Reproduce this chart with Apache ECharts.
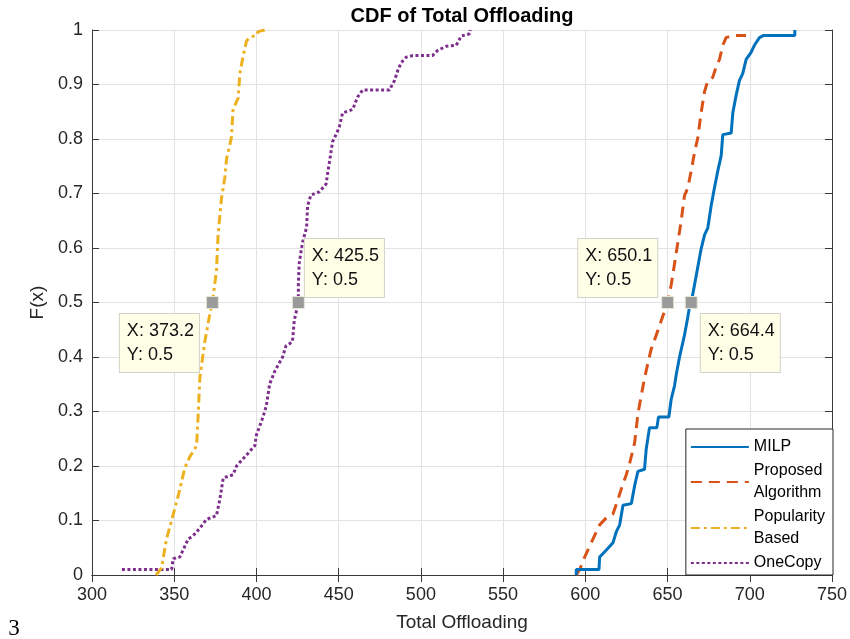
<!DOCTYPE html>
<html>
<head>
<meta charset="utf-8">
<script src="https://cdn.jsdelivr.net/npm/echarts@6/dist/echarts.min.js"></script>
<style>
  html, body { margin: 0; padding: 0; background: #fff; }
  #chart { width: 850px; height: 639px; }
</style>
</head>
<body>
<div id="chart"></div>
<script>
// x axis ticks
const xTicks = [300, 350, 400, 450, 500, 550, 600, 650, 700, 750]

// MILP
const milpX = [594.5, 594.5, 608.3, 608.7, 612.8, 616.8, 618.8, 620.9, 622.9, 628, 630, 632, 636, 637, 639, 643.5, 644.5, 650.8, 652.2, 654.3, 655.3, 657.3, 660.3, 662.3, 663.4, 664.4, 666.4, 668.4, 670.4, 672.5, 674.5, 676.5, 678.5, 680.6, 682.6, 683.6, 688.7, 689.7, 691.7, 693.7, 695.7, 697.8, 700.8, 702.8, 705.9, 708.5, 727.4, 727.4]
const milpY = [0, 0.01, 0.01, 0.033, 0.046, 0.059, 0.079, 0.092, 0.128, 0.131, 0.164, 0.19, 0.194, 0.23, 0.27, 0.27, 0.29, 0.29, 0.322, 0.348, 0.368, 0.4, 0.44, 0.473, 0.493, 0.5, 0.532, 0.565, 0.598, 0.624, 0.637, 0.677, 0.71, 0.742, 0.769, 0.808, 0.811, 0.848, 0.88, 0.907, 0.92, 0.946, 0.959, 0.972, 0.986, 0.99, 0.99, 1]

// Proposed Algorithm
const propX = [594.5, 596.6, 599.6, 601.6, 603.6, 606.7, 608.7, 612.8, 616.8, 619.8, 621.9, 624.9, 626.9, 630, 632, 634, 636, 638, 640, 643.1, 646.2, 650.1, 652.2, 654.3, 656.3, 658.3, 660.3, 662.3, 664.4, 666.4, 668.4, 670.4, 672.5, 674.5, 677.5, 679.6, 681.6, 683.6, 685.6, 689.7, 697.7]
const propY = [0, 0.01, 0.033, 0.046, 0.059, 0.079, 0.092, 0.105, 0.112, 0.138, 0.158, 0.184, 0.204, 0.243, 0.296, 0.329, 0.361, 0.388, 0.414, 0.44, 0.467, 0.5, 0.532, 0.572, 0.611, 0.65, 0.696, 0.71, 0.742, 0.775, 0.802, 0.848, 0.887, 0.907, 0.913, 0.933, 0.946, 0.972, 0.986, 0.99, 0.99]

// Popularity Based
const popX = [339, 342.3, 345.3, 348.4, 352.4, 356.5, 359.5, 363.6, 364.6, 365.6, 368.6, 371.7, 373.2, 375.7, 376.7, 378.7, 380.8, 381.8, 384.8, 385.8, 388.9, 389.9, 392, 394, 396, 400, 401, 405]
const popY = [0, 0.013, 0.066, 0.1, 0.145, 0.197, 0.217, 0.237, 0.296, 0.362, 0.428, 0.48, 0.5, 0.559, 0.625, 0.69, 0.73, 0.763, 0.803, 0.855, 0.875, 0.92, 0.954, 0.98, 0.987, 0.99, 0.997, 1]

// OneCopy
const oneX = [318.2, 348.4, 349.4, 353.4, 358.5, 361.5, 365.6, 369.6, 375.7, 377.7, 379.8, 385.8, 387.9, 393.9, 399, 400, 404, 406, 408, 411.3, 415.9, 417.9, 421.9, 423, 425.5, 425.5, 426, 428, 430.5, 431.1, 433.1, 438.2, 442.3, 444.3, 446.3, 448.4, 450.4, 452.4, 458.5, 461.5, 464.6, 480.9, 483.9, 486, 488, 491, 495, 507, 510.4, 515.4, 521.5, 524.6, 529.7, 530]
const oneY = [0.01, 0.01, 0.03, 0.033, 0.066, 0.072, 0.086, 0.102, 0.109, 0.138, 0.178, 0.184, 0.2, 0.22, 0.237, 0.257, 0.29, 0.31, 0.35, 0.375, 0.4, 0.42, 0.428, 0.467, 0.5, 0.533, 0.572, 0.61, 0.638, 0.677, 0.697, 0.703, 0.717, 0.756, 0.795, 0.808, 0.822, 0.848, 0.854, 0.877, 0.89, 0.89, 0.907, 0.926, 0.94, 0.95, 0.953, 0.953, 0.963, 0.97, 0.972, 0.989, 0.993, 1]

// data tips
const tipX = [373.2, 425.5, 650.1, 664.4]
const tipY = [0.5, 0.5, 0.5, 0.5]
const tipOffsets = [[-86, 18], [13, -57], [-83, -57], [16, 18]]

const zip = (xs, ys) => xs.map((x, i) => [x, ys[i]])

const font = 'Liberation Sans, Arial, sans-serif'
const axisColor = '#3a3a3a'

const chart = echarts.init(document.getElementById('chart'))

const mkLine = (name, xs, ys, color, type, z) => ({
  name: name,
  type: 'line',
  data: zip(xs, ys),
  symbol: 'none',
  showSymbol: false,
  z: z,
  lineStyle: { color: color, width: 3, type: type },
  itemStyle: { color: color }
})

chart.setOption({
  animation: false,
  textStyle: { fontFamily: font },
  grid: { left: 92, right: 18, top: 30, bottom: 64 },
  graphic: [
    {
      type: 'text', x: 462, y: 6,
      style: { text: 'CDF of Total Offloading', font: 'bold 20px ' + font, fill: '#000', textAlign: 'center' }
    },
    {
      type: 'text', x: 14, y: 617,
      style: { text: '3', font: '23px Liberation Serif, DejaVu Serif, serif', fill: '#000', textAlign: 'center' }
    }
  ],
  legend: {
    data: ['MILP', 'Proposed\nAlgorithm', 'Popularity\nBased', 'OneCopy'],
    orient: 'vertical',
    right: 17,
    bottom: 64,
    backgroundColor: '#fff',
    borderColor: '#262626',
    borderWidth: 1,
    borderRadius: 0,
    padding: [7, 8, 1, 4],
    itemWidth: 58,
    itemHeight: 14,
    itemGap: 2,
    itemStyle: { opacity: 0 },
    textStyle: { fontSize: 16, lineHeight: 22, color: '#000', fontFamily: font }
  },
  xAxis: [
    {
      type: 'value', min: 300, max: 750, interval: 50,
      name: 'Total Offloading', nameLocation: 'middle', nameGap: 38,
      nameTextStyle: { fontSize: 19, color: '#262626' },
      axisLine: { lineStyle: { color: axisColor, width: 1 } },
      axisTick: { inside: true, length: 7, lineStyle: { color: axisColor } },
      axisLabel: { fontSize: 18, color: '#262626', margin: 11,
        formatter: (v) => xTicks.includes(v) ? String(v) : '' },
      splitLine: { show: true, lineStyle: { color: '#e2e2e2', width: 1 } }
    },
    {
      type: 'value', min: 300, max: 750, interval: 50, position: 'top',
      axisLine: { lineStyle: { color: axisColor, width: 1 } },
      axisTick: { inside: true, length: 7, lineStyle: { color: axisColor } },
      axisLabel: { show: false },
      splitLine: { show: false }
    }
  ],
  yAxis: [
    {
      type: 'value', min: 0, max: 1, interval: 0.1,
      name: 'F(x)', nameLocation: 'middle', nameGap: 37, nameRotate: 90,
      nameTextStyle: { fontSize: 19, color: '#262626' },
      axisLine: { show: true, lineStyle: { color: axisColor, width: 1 } },
      axisTick: { show: true, inside: true, length: 7, lineStyle: { color: axisColor } },
      axisLabel: { fontSize: 18, color: '#262626', margin: 9,
        formatter: (v) => String(Math.round(v * 10) / 10) },
      splitLine: { show: true, lineStyle: { color: '#e2e2e2', width: 1 } }
    },
    {
      type: 'value', min: 0, max: 1, interval: 0.1, position: 'right',
      axisLine: { show: true, lineStyle: { color: axisColor, width: 1 } },
      axisTick: { show: true, inside: true, length: 7, lineStyle: { color: axisColor } },
      axisLabel: { show: false },
      splitLine: { show: false }
    }
  ],
  series: [
    mkLine('MILP', milpX, milpY, '#0072BD', 'solid', 5),
    mkLine('Proposed\nAlgorithm', propX, propY, '#D95319', [11, 7], 4),
    mkLine('Popularity\nBased', popX, popY, '#EDB120', [9, 4, 3, 4], 3),
    mkLine('OneCopy', oneX, oneY, '#7E2F8E', [3, 2.5], 2),
    {
      name: 'tips',
      type: 'scatter',
      z: 10,
      symbol: 'rect',
      symbolSize: 12,
      itemStyle: { color: '#9b9b9b', borderColor: '#e8e8d8', borderWidth: 1, opacity: 1 },
      data: tipX.map((x, i) => ({
        value: [x, tipY[i]],
        label: {
          show: true,
          position: tipOffsets[i],
          align: 'left',
          verticalAlign: 'top',
          formatter: 'X: ' + x.toFixed(1) + '\nY: ' + tipY[i],
          fontSize: 18,
          lineHeight: 24,
          color: '#111',
          fontFamily: font,
          backgroundColor: '#ffffe8',
          borderColor: '#d2d2c8',
          borderWidth: 1,
          padding: [5, 5, 5, 7]
        }
      }))
    }
  ]
})
</script>
</body>
</html>
